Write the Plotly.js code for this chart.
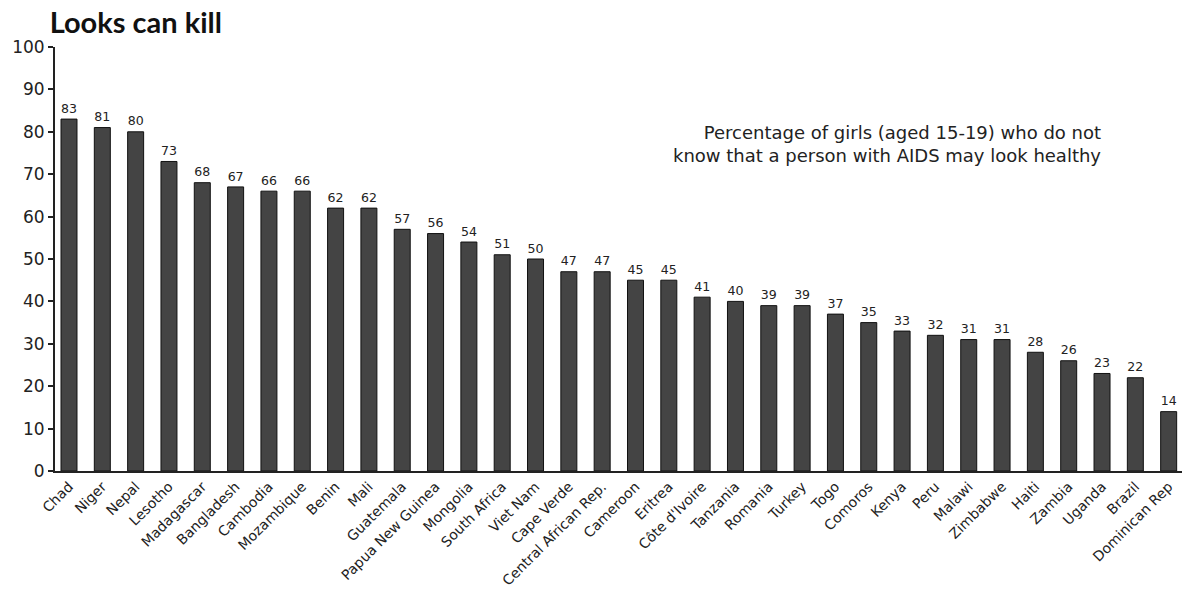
<!DOCTYPE html>
<html>
<head>
<meta charset="utf-8">
<script src="https://cdn.plot.ly/plotly-3.0.1.min.js"></script>
<style>html,body{margin:0;padding:0;background:#fff;}#chart{width:1182px;height:590px;}</style>
</head>
<body>
<div id="chart"></div>
<script>
const countries = ["Chad","Niger","Nepal","Lesotho","Madagascar","Bangladesh","Cambodia","Mozambique","Benin","Mali","Guatemala","Papua New Guinea","Mongolia","South Africa","Viet Nam","Cape Verde","Central African Rep.","Cameroon","Eritrea","Côte d'Ivoire","Tanzania","Romania","Turkey","Togo","Comoros","Kenya","Peru","Malawi","Zimbabwe","Haiti","Zambia","Uganda","Brazil","Dominican Rep"];
const values = [83,81,80,73,68,67,66,66,62,62,57,56,54,51,50,47,47,45,45,41,40,39,39,37,35,33,32,31,31,28,26,23,22,14];
const yTicks = [0,10,20,30,40,50,60,70,80,90,100];
const titleText = "Looks can kill";
const noteText = "Percentage of girls (aged 15-19) who do not<br>know that a person with AIDS may look healthy";

const font = "'DejaVu Sans', sans-serif";
const trace = {
  type: "bar",
  x: countries,
  y: values,
  text: values.map(String),
  textposition: "outside",
  textfont: {family: font, size: 15, color: "#222"},
  cliponaxis: false,
  width: 0.48,
  marker: {color: "#444444", line: {color: "#111", width: 1}},
  hoverinfo: "x+y"
};
const layout = {
  width: 1182, height: 590,
  margin: {l: 55, r: 0, t: 47, b: 119},
  paper_bgcolor: "#fff", plot_bgcolor: "#fff",
  showlegend: false,
  title: {text: "<b>" + titleText + "</b>", xref: "container", x: 0.042, xanchor: "left",
          yref: "container", y: 0.962, yanchor: "middle",
          font: {family: "Lato, sans-serif", size: 29, color: "#111"}},
  xaxis: {
    type: "category", range: [-0.42, 33.4],
    tickangle: -45, tickfont: {family: font, size: 14, color: "#222"},
    showline: true, linecolor: "#222", linewidth: 2, ticks: "", showgrid: false, zeroline: false,
    automargin: false
  },
  yaxis: {
    range: [0, 100], tickvals: yTicks, ticktext: yTicks.map(String),
    ticks: "outside", ticklen: 5, tickwidth: 2, tickcolor: "#222",
    showline: true, linecolor: "#222", linewidth: 2, showgrid: false, zeroline: false,
    tickfont: {family: font, size: 17, color: "#222"}, automargin: false
  },
  annotations: [{
    text: noteText, xref: "paper", yref: "paper", x: 0.93, y: 0.772,
    xanchor: "right", yanchor: "middle", align: "right", showarrow: false,
    font: {family: font, size: 18, color: "#222"}
  }]
};
Plotly.newPlot("chart", [trace], layout, {displayModeBar: false, staticPlot: true});
</script>
</body>
</html>
